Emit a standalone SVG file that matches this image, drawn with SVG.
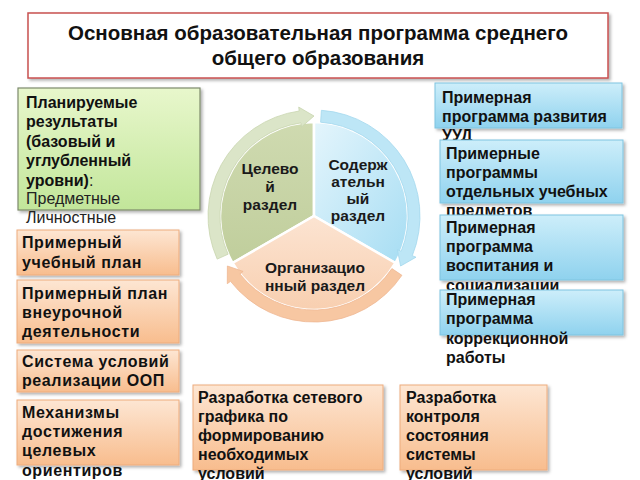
<svg xmlns="http://www.w3.org/2000/svg" width="640" height="480" viewBox="0 0 640 480">
<defs>
<linearGradient id="gOr" x1="0" y1="0" x2="0" y2="1"><stop offset="0" stop-color="#fde6d3"/><stop offset="1" stop-color="#f8bd8e"/></linearGradient>
<linearGradient id="gBl" x1="0" y1="0" x2="0" y2="1"><stop offset="0" stop-color="#cdeefa"/><stop offset="1" stop-color="#8fd2ee"/></linearGradient>
<linearGradient id="gGr" x1="0" y1="0" x2="0" y2="1"><stop offset="0" stop-color="#e8f7cc"/><stop offset="1" stop-color="#c2e69a"/></linearGradient>
<linearGradient id="sBl" x1="0" y1="0" x2="1" y2="1"><stop offset="0" stop-color="#e4f5fc"/><stop offset="1" stop-color="#a6ddf3"/></linearGradient>
<linearGradient id="sOr" x1="0" y1="0" x2="0" y2="1"><stop offset="0" stop-color="#fce4d2"/><stop offset="1" stop-color="#f8cfb0"/></linearGradient>
<linearGradient id="sGr" x1="0" y1="0" x2="0" y2="1"><stop offset="0" stop-color="#cfdab0"/><stop offset="1" stop-color="#c0ce9c"/></linearGradient>
<filter id="sh" x="-10%" y="-10%" width="125%" height="130%"><feDropShadow dx="2" dy="2" stdDeviation="1.5" flood-color="#000" flood-opacity="0.3"/></filter>
</defs>
<style>
.t{font-family:"Liberation Sans",Arial,sans-serif;font-size:16px;font-weight:bold;fill:#111}
.w{letter-spacing:0.6px}
.n{font-weight:normal;fill:#222}
.pt{font-family:"Liberation Sans",Arial,sans-serif;font-size:15.5px;font-weight:bold;fill:#1a1a1a;text-anchor:middle}
.ttl{font-family:"Liberation Sans",Arial,sans-serif;font-size:20.5px;font-weight:bold;fill:#111;text-anchor:middle}
.or{fill:url(#gOr);stroke:#eeac7c;stroke-width:1;filter:url(#sh)}
.bl{fill:url(#gBl);stroke:#7fc4e0;stroke-width:1;filter:url(#sh)}
.gr{fill:url(#gGr);stroke:#7d8a6c;stroke-width:1.2;filter:url(#sh)}
.sec{stroke:#fff;stroke-width:2.5}
</style>
<rect width="640" height="480" fill="#fff"/>

<g id="title">
<rect x="28" y="13" width="580" height="65" fill="#fff" stroke="#c8504f" stroke-width="1.5" filter="url(#sh)"/>
<text class="ttl" x="318" y="40">Основная образовательная программа среднего</text>
<text class="ttl" x="318" y="65">общего образования</text>
</g>

<g id="cycle">
<g id="sector-target">
<path class="sec" fill="url(#sGr)" d="M314,216 L232.6,263 A94,94 0 0 1 314,122 Z"/>
<text class="pt" x="270" y="174">Целево</text>
<text class="pt" x="270" y="192">й</text>
<text class="pt" x="270" y="210">раздел</text>
</g>
<g id="sector-content">
<path class="sec" fill="url(#sBl)" d="M314,216 L314,122 A94,94 0 0 1 395.4,263 Z"/>
<text class="pt" x="358" y="170">Содерж</text>
<text class="pt" x="358" y="187">ательн</text>
<text class="pt" x="358" y="204">ый</text>
<text class="pt" x="358" y="221">раздел</text>
</g>
<g id="sector-org">
<path class="sec" fill="url(#sOr)" d="M314,216 L395.4,263 A94,94 0 0 1 232.6,263 Z"/>
<text class="pt" x="315" y="273">Организацио</text>
<text class="pt" x="315" y="291">нный раздел</text>
</g>
</g>

<g id="connectors">
<path fill="#dbe5c8" stroke="#c9d5b0" stroke-width="0.8" d="M217.2,259.1 A106,106 0 0 1 299.2,111.0 L298.7,107.1 L314,116 L301.5,126.9 L300.9,122.9 A94,94 0 0 0 228.1,254.2 Z"/>
<path fill="#bde6f6" stroke="#a3d8ee" stroke-width="0.8" d="M321.4,110.3 A106,106 0 0 1 412.3,255.7 L416.0,257.2 L400.6,266 L397.4,249.7 L401.2,251.2 A94,94 0 0 0 320.6,122.2 Z"/>
<path fill="#f7c7a2" stroke="#efb893" stroke-width="0.8" d="M401.9,275.3 A106,106 0 0 1 230.5,281.3 L227.3,283.7 L227.4,266 L243.1,271.4 L239.9,273.9 A94,94 0 0 0 391.9,268.6 Z"/>
</g>

<g id="planned-results">
<rect class="gr" x="18" y="88" width="182" height="122"/>
<text class="t" x="26" y="108">Планируемые</text>
<text class="t" x="26" y="127">результаты</text>
<text class="t" x="26" y="147">(базовый и</text>
<text class="t" x="26" y="166">углубленный</text>
<text class="t" x="26" y="186">уровни)<tspan class="n">:</tspan></text>
<text class="t n" x="26" y="204">Предметные</text>
<text class="t n" x="26" y="223">Личностные</text>
</g>

<g id="curriculum">
<rect class="or" x="17" y="230" width="162" height="45"/>
<text class="t w" x="22" y="248">Примерный</text>
<text class="t w" x="22" y="268">учебный план</text>
</g>
<g id="extracurricular">
<rect class="or" x="17" y="280" width="162" height="63"/>
<text class="t w" x="22" y="299">Примерный план</text>
<text class="t w" x="22" y="318">внеурочной</text>
<text class="t w" x="22" y="337">деятельности</text>
</g>
<g id="conditions">
<rect class="or" x="17" y="350" width="162" height="42"/>
<text class="t w" x="22" y="367">Система условий</text>
<text class="t w" x="22" y="386">реализации ООП</text>
</g>
<g id="mechanisms">
<rect class="or" x="17" y="400" width="162" height="65"/>
<text class="t w" x="22" y="418">Механизмы</text>
<text class="t w" x="22" y="437">достижения</text>
<text class="t w" x="22" y="456">целевых</text>
<text class="t w" x="22" y="476">ориентиров</text>
</g>

<g id="uud">
<rect class="bl" x="435" y="83" width="187" height="45"/>
<text class="t" x="442" y="103">Примерная</text>
<text class="t" x="442" y="122">программа развития</text>
<text class="t" x="442" y="141">УУД</text>
</g>
<g id="subjects">
<rect class="bl" x="440" y="140" width="183" height="63"/>
<text class="t" x="446" y="159">Примерные</text>
<text class="t" x="446" y="178">программы</text>
<text class="t" x="446" y="197">отдельных учебных</text>
<text class="t" x="446" y="216">предметов</text>
</g>
<g id="upbringing">
<rect class="bl" x="440" y="215" width="183" height="65"/>
<text class="t" x="446" y="233">Примерная</text>
<text class="t" x="446" y="252">программа</text>
<text class="t" x="446" y="271">воспитания и</text>
<text class="t" x="446" y="291">социализации</text>
</g>
<g id="correction">
<rect class="bl" x="440" y="290" width="183" height="45"/>
<text class="t" x="446" y="305">Примерная</text>
<text class="t" x="446" y="324">программа</text>
<text class="t" x="446" y="344">коррекционной</text>
<text class="t" x="446" y="363">работы</text>
</g>

<g id="network-schedule">
<rect class="or" x="193" y="385" width="190" height="85"/>
<text class="t" x="198" y="403">Разработка сетевого</text>
<text class="t" x="198" y="422">графика по</text>
<text class="t" x="198" y="441">формированию</text>
<text class="t" x="198" y="460">необходимых</text>
<text class="t" x="198" y="479">условий</text>
</g>
<g id="control">
<rect class="or" x="400" y="385" width="147" height="85"/>
<text class="t" x="406" y="403">Разработка</text>
<text class="t" x="406" y="422">контроля</text>
<text class="t" x="406" y="441">состояния</text>
<text class="t" x="406" y="460">системы</text>
<text class="t" x="406" y="479">условий</text>
</g>
</svg>
